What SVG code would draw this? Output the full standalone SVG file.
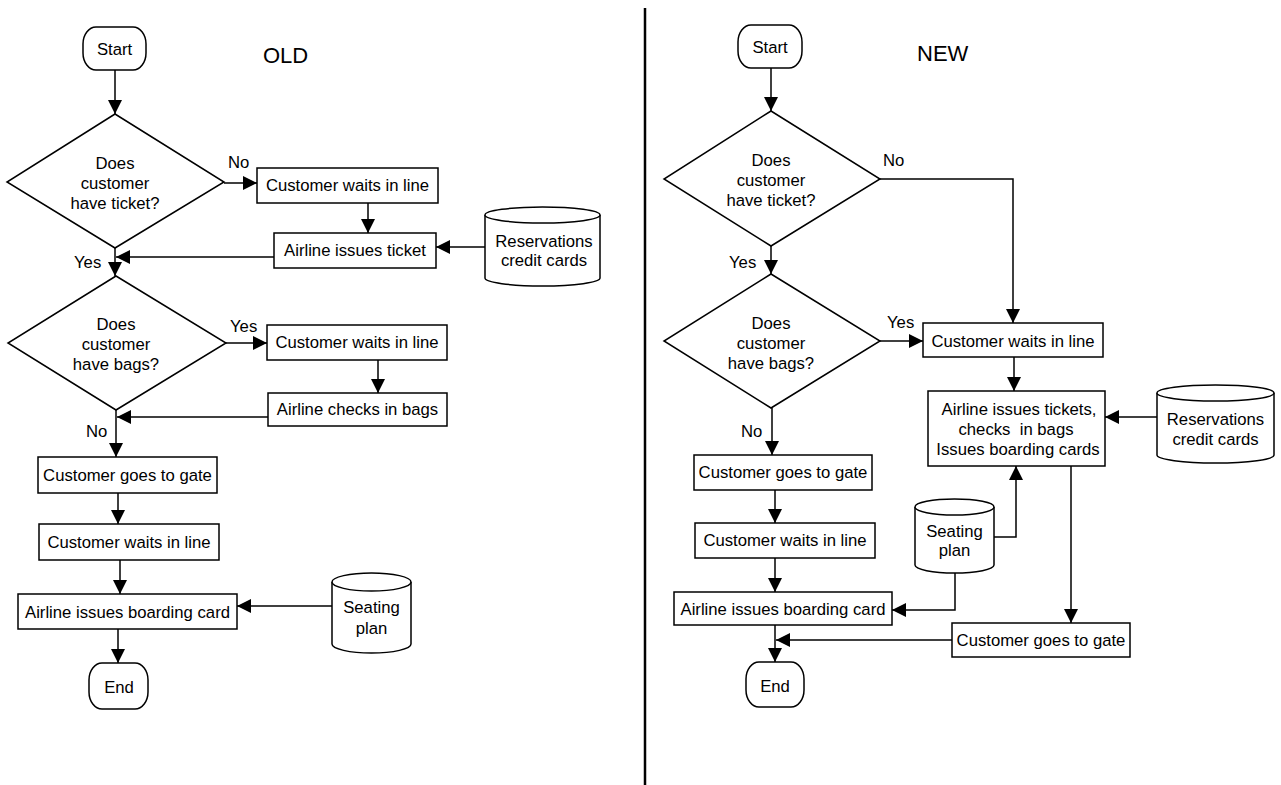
<svg xmlns="http://www.w3.org/2000/svg" width="1281" height="785" viewBox="0 0 1281 785">
<style>
.s{fill:#fff;stroke:#000;stroke-width:1.5}
.t{font-family:"Liberation Sans",Arial,sans-serif;font-size:16.7px;text-anchor:middle;fill:#000}
.l{font-family:"Liberation Sans",Arial,sans-serif;font-size:16.7px;fill:#000}
.h{font-family:"Liberation Sans",Arial,sans-serif;font-size:22px;fill:#000}
.c{fill:none;stroke:#000;stroke-width:1.5}
.a{marker-end:url(#arr)}
</style>
<defs>
<marker id="arr" viewBox="0 0 14 14" refX="14" refY="7" markerWidth="14" markerHeight="14" markerUnits="userSpaceOnUse" orient="auto">
<path d="M0,0 L14,7 L0,14 Z" fill="#000"/>
</marker>
</defs>
<rect width="1281" height="785" fill="#fff"/>
<line x1="645" y1="8" x2="645" y2="785" stroke="#000" stroke-width="2.5"/>
<text class="h" x="263" y="63">OLD</text>
<text class="h" x="917" y="61">NEW</text>

<g id="connectors">
<path class="c a" d="M115,70 V114"/>
<path class="c a" d="M224,183 H257"/>
<path class="c a" d="M368,203 V233"/>
<path class="c a" d="M485,247 H436"/>
<path class="c a" d="M274,257 H116"/>
<path class="c a" d="M115,248 V276"/>
<path class="c a" d="M226,343 H267"/>
<path class="c a" d="M378,360 V393"/>
<path class="c a" d="M268,417 H117"/>
<path class="c a" d="M116,410 V457"/>
<path class="c a" d="M118,493 V524"/>
<path class="c a" d="M120,560 V594"/>
<path class="c a" d="M332,606 H237"/>
<path class="c a" d="M118,629 V663"/>

<path class="c a" d="M771,68 V111"/>
<path class="c a" d="M880,179 H1013 V323"/>
<path class="c a" d="M771,246 V274"/>
<path class="c a" d="M880,341 H923"/>
<path class="c a" d="M1014,357 V391"/>
<path class="c a" d="M1157,417 H1105"/>
<path class="c a" d="M994,537 H1016 V466"/>
<path class="c a" d="M1071,466 V623"/>
<path class="c a" d="M952,640 H776"/>
<path class="c a" d="M772,408 V455"/>
<path class="c a" d="M775,490 V523"/>
<path class="c a" d="M775,558 V592"/>
<path class="c a" d="M955,573 V610 H892"/>
<path class="c a" d="M775,625 V662"/>
<text class="l" x="228" y="168">No</text>
<text class="l" x="74" y="268">Yes</text>
<text class="l" x="230" y="332">Yes</text>
<text class="l" x="86" y="437">No</text>
<text class="l" x="883" y="166">No</text>
<text class="l" x="729" y="268">Yes</text>
<text class="l" x="887" y="328">Yes</text>
<text class="l" x="741" y="437">No</text>
</g>

<g id="old-start"><rect class="s" x="83" y="27" width="63" height="43" rx="13" ry="17"/><text class="t" x="114.5" y="55">Start</text></g>
<g id="old-ticket-q"><path class="s" d="M115,114 L224,182 L115,248 L7,182 Z"/><text class="t" x="115" y="169">Does</text><text class="t" x="115" y="189">customer</text><text class="t" x="115" y="209">have ticket?</text></g>
<g id="old-wait1"><rect class="s" x="257" y="168" width="181" height="35"/><text class="t" x="347.5" y="191">Customer waits in line</text></g>
<g id="old-issue-ticket"><rect class="s" x="274" y="233" width="162" height="35"/><text class="t" x="355" y="256">Airline issues ticket</text></g>
<g id="old-reservations"><path class="s" d="M485,215 V278 A57.5,8 0 0 0 600,278 V215"/><ellipse class="s" cx="542.5" cy="215" rx="57.5" ry="8"/><text class="t" x="544" y="247">Reservations</text><text class="t" x="544" y="266">credit cards</text></g>
<g id="old-bags-q"><path class="s" d="M116,276 L226,343 L116,410 L8,343 Z"/><text class="t" x="116" y="330">Does</text><text class="t" x="116" y="350">customer</text><text class="t" x="116" y="370">have bags?</text></g>
<g id="old-wait2"><rect class="s" x="267" y="325" width="180" height="35"/><text class="t" x="357" y="348">Customer waits in line</text></g>
<g id="old-checkin"><rect class="s" x="268" y="393" width="179" height="33"/><text class="t" x="357.5" y="415">Airline checks in bags</text></g>
<g id="old-gate"><rect class="s" x="38" y="457" width="179" height="36"/><text class="t" x="127.5" y="481">Customer goes to gate</text></g>
<g id="old-wait3"><rect class="s" x="39" y="524" width="180" height="36"/><text class="t" x="129" y="548">Customer waits in line</text></g>
<g id="old-boarding"><rect class="s" x="18" y="594" width="219" height="35"/><text class="t" x="127.5" y="618">Airline issues boarding card</text></g>
<g id="old-seating"><path class="s" d="M332,582 V644 A39.5,9 0 0 0 411,644 V582"/><ellipse class="s" cx="371.5" cy="582" rx="39.5" ry="9"/><text class="t" x="371.5" y="613">Seating</text><text class="t" x="371.5" y="634">plan</text></g>
<g id="old-end"><rect class="s" x="89" y="663" width="59" height="46" rx="13" ry="17"/><text class="t" x="119" y="693">End</text></g>

<g id="new-start"><rect class="s" x="738" y="25" width="64" height="43" rx="13" ry="17"/><text class="t" x="770" y="53">Start</text></g>
<g id="new-ticket-q"><path class="s" d="M771,111 L880,179 L771,246 L664,179 Z"/><text class="t" x="771" y="166">Does</text><text class="t" x="771" y="186">customer</text><text class="t" x="771" y="206">have ticket?</text></g>
<g id="new-bags-q"><path class="s" d="M771,274 L880,341 L771,408 L664,341 Z"/><text class="t" x="771" y="329">Does</text><text class="t" x="771" y="349">customer</text><text class="t" x="771" y="369">have bags?</text></g>
<g id="new-wait1"><rect class="s" x="923" y="323" width="180" height="34"/><text class="t" x="1013" y="347">Customer waits in line</text></g>
<g id="new-issue-all"><rect class="s" x="928" y="391" width="177" height="75"/><text class="t" x="1019" y="415">Airline issues tickets,</text><text class="t" x="1016" y="435" xml:space="preserve">checks  in bags</text><text class="t" x="1018" y="455">Issues boarding cards</text></g>
<g id="new-reservations"><path class="s" d="M1157,393 V455 A58.5,8 0 0 0 1274,455 V393"/><ellipse class="s" cx="1215.5" cy="393" rx="58.5" ry="8"/><text class="t" x="1215.5" y="425">Reservations</text><text class="t" x="1215.5" y="445">credit cards</text></g>
<g id="new-seating"><path class="s" d="M915,507 V565 A39.5,8 0 0 0 994,565 V507"/><ellipse class="s" cx="954.5" cy="507" rx="39.5" ry="8"/><text class="t" x="954.5" y="537">Seating</text><text class="t" x="954.5" y="556">plan</text></g>
<g id="new-gate-right"><rect class="s" x="952" y="623" width="178" height="34"/><text class="t" x="1041" y="646">Customer goes to gate</text></g>
<g id="new-gate"><rect class="s" x="694" y="455" width="178" height="35"/><text class="t" x="783" y="478">Customer goes to gate</text></g>
<g id="new-wait2"><rect class="s" x="695" y="523" width="180" height="35"/><text class="t" x="785" y="546">Customer waits in line</text></g>
<g id="new-boarding"><rect class="s" x="674" y="592" width="218" height="33"/><text class="t" x="783" y="615">Airline issues boarding card</text></g>
<g id="new-end"><rect class="s" x="746" y="662" width="58" height="45" rx="13" ry="17"/><text class="t" x="775" y="692">End</text></g>
</svg>
